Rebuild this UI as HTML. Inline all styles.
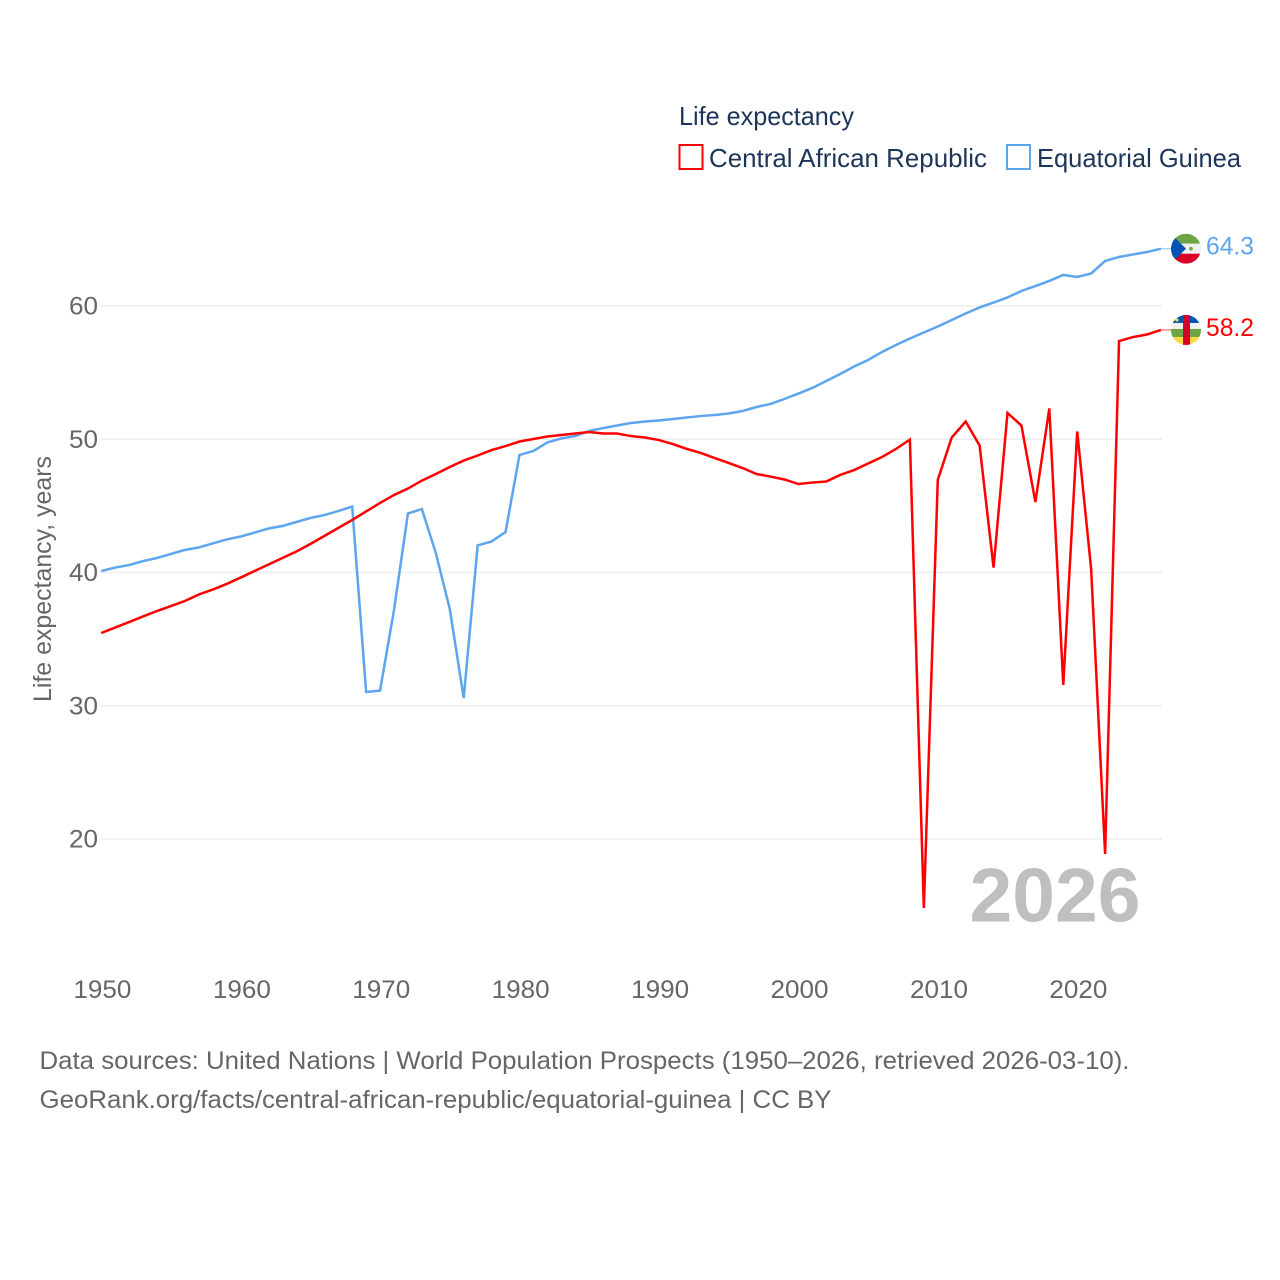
<!DOCTYPE html>
<html lang="en">
<head>
<meta charset="utf-8">
<title>Life expectancy: Central African Republic and Equatorial Guinea</title>
<style>
  html, body { margin: 0; padding: 0; background: #fff; }
  svg { display: block; font-family: "Liberation Sans", sans-serif; }
</style>
</head>
<body>
<svg id="chart" xmlns="http://www.w3.org/2000/svg" width="1280" height="1280" viewBox="0 0 1280 1280">
  <defs>
    <clipPath id="flag-clip"><circle cx="0" cy="0" r="15"/></clipPath>
  </defs>
  <rect x="0" y="0" width="1280" height="1280" fill="#ffffff"/>

  <g id="grid"></g>
  <g id="y-ticks"></g>
  <g id="x-ticks"></g>

  <text transform="translate(51,579) rotate(-90)" text-anchor="middle" font-size="25" fill="#666666" textLength="246" lengthAdjust="spacingAndGlyphs">Life expectancy, years</text>

  <text x="679" y="125" font-size="26" fill="#1d3557" textLength="175" lengthAdjust="spacingAndGlyphs">Life expectancy</text>
  <rect x="679.5" y="145" width="23" height="24" fill="#ffffff" stroke="#ff0000" stroke-width="2"/>
  <text x="709" y="167" font-size="26" fill="#1d3557" textLength="278" lengthAdjust="spacingAndGlyphs">Central African Republic</text>
  <rect x="1007" y="145" width="23" height="24" fill="#ffffff" stroke="#5da5ee" stroke-width="2"/>
  <text x="1037" y="167" font-size="26" fill="#1d3557" textLength="204" lengthAdjust="spacingAndGlyphs">Equatorial Guinea</text>

  <text x="969.5" y="921.5" font-size="76" font-weight="700" fill="#bfbfbf" textLength="171" lengthAdjust="spacingAndGlyphs">2026</text>

  <g id="series"></g>

  <g id="flag-gq">
    <g clip-path="url(#flag-clip)">
      <rect x="-15" y="-15" width="30" height="10" fill="#6da544"/>
      <rect x="-15" y="-5" width="30" height="10" fill="#f0f0f0"/>
      <rect x="-15" y="5" width="30" height="10" fill="#d80027"/>
      <polygon points="-15,-15 0,0 -15,15" fill="#0052b4"/>
      <circle cx="5" cy="0" r="1.8" fill="#6da544"/>
    </g>
  </g>
  <g id="flag-cf">
    <g clip-path="url(#flag-clip)">
      <rect x="-15" y="-15" width="30" height="8" fill="#0052b4"/>
      <rect x="-15" y="-7" width="30" height="6" fill="#f0f0f0"/>
      <rect x="-15" y="-1" width="30" height="8" fill="#6da544"/>
      <rect x="-15" y="7" width="30" height="8" fill="#ffda44"/>
      <rect x="-3" y="-15" width="7" height="30" fill="#d80027"/>
      <circle cx="-9" cy="-10" r="1.6" fill="#ffda44"/>
    </g>
  </g>

  <text id="end-label-gq" x="1206" y="254" font-size="25" fill="#5da5ee" textLength="48" lengthAdjust="spacingAndGlyphs"></text>
  <text id="end-label-cf" x="1206" y="336" font-size="25" fill="#ff0000" textLength="48" lengthAdjust="spacingAndGlyphs"></text>

  <text x="39.5" y="1069" font-size="25" fill="#666666" textLength="1090" lengthAdjust="spacingAndGlyphs">Data sources: United Nations | World Population Prospects (1950–2026, retrieved 2026-03-10).</text>
  <text x="39.5" y="1108" font-size="25" fill="#666666" textLength="792" lengthAdjust="spacingAndGlyphs">GeoRank.org/facts/central-african-republic/equatorial-guinea | CC BY</text>
</svg>

<script>
const firstYear = 1950;
const xTickLabels = [1950, 1960, 1970, 1980, 1990, 2000, 2010, 2020];
const yTickLabels = [20, 30, 40, 50, 60];

const centralAfricanRepublic = [
  35.46, 35.87, 36.28, 36.70, 37.11, 37.48, 37.86, 38.35, 38.72, 39.14,
  39.62, 40.11, 40.60, 41.09, 41.58, 42.14, 42.74, 43.34, 43.94, 44.58,
  45.22, 45.82, 46.30, 46.90, 47.39, 47.92, 48.40, 48.78, 49.19, 49.49,
  49.83, 50.02, 50.21, 50.32, 50.43, 50.54, 50.43, 50.43, 50.24, 50.13,
  49.94, 49.64, 49.27, 48.97, 48.59, 48.22, 47.84, 47.39, 47.20, 46.98,
  46.64, 46.75, 46.83, 47.32, 47.69, 48.18, 48.67, 49.27, 49.98, 14.82,
  46.94, 50.13, 51.33, 49.53, 40.37, 51.97, 51.03, 45.29, 52.31, 31.56,
  50.58, 40.26, 18.87, 57.37, 57.67, 57.86, 58.2
];

const equatorialGuinea = [
  40.11, 40.37, 40.56, 40.86, 41.09, 41.39, 41.69, 41.88, 42.18, 42.48,
  42.70, 43.00, 43.30, 43.49, 43.79, 44.09, 44.31, 44.61, 44.95, 31.03,
  31.14, 37.18, 44.43, 44.76, 41.46, 37.26, 30.58, 42.03, 42.33, 43.04,
  48.82, 49.12, 49.76, 50.06, 50.24, 50.62, 50.84, 51.03, 51.22, 51.33,
  51.41, 51.52, 51.63, 51.74, 51.82, 51.93, 52.12, 52.42, 52.65, 53.02,
  53.43, 53.85, 54.37, 54.90, 55.46, 55.95, 56.55, 57.07, 57.56, 58.01,
  58.46, 58.95, 59.44, 59.89, 60.26, 60.64, 61.13, 61.50, 61.88, 62.33,
  62.18, 62.44, 63.38, 63.68, 63.87, 64.05, 64.3
];

const SVG_NS = 'http://www.w3.org/2000/svg';

function xScale(year) {
  return 101.2 + (year - 1950) * 13.943;
}

function yScale(value) {
  return 306 + (60 - value) * 13.325;
}

const gridLayer = document.getElementById('grid');
const yTickLayer = document.getElementById('y-ticks');
const xTickLayer = document.getElementById('x-ticks');
const seriesLayer = document.getElementById('series');

yTickLabels.forEach(function (tick) {
  const line = document.createElementNS(SVG_NS, 'line');
  
  
  line.setAttribute('x1', 101);
  line.setAttribute('x2', 1162);
  line.setAttribute('y1', yScale(tick));
  line.setAttribute('y2', yScale(tick));
  line.setAttribute('stroke', '#eeeeee');
  line.setAttribute('stroke-width', '1.5');
  gridLayer.appendChild(line);

  const label = document.createElementNS(SVG_NS, 'text');
  
  
  label.setAttribute('x', 98);
  label.setAttribute('y', yScale(tick) + 8.5);
  label.setAttribute('text-anchor', 'end');
  label.setAttribute('font-size', '25');
  label.setAttribute('fill', '#666666');
  label.setAttribute('textLength', '29');
  label.setAttribute('lengthAdjust', 'spacingAndGlyphs');
  label.textContent = tick;
  yTickLayer.appendChild(label);
});

xTickLabels.forEach(function (tick) {
  const label = document.createElementNS(SVG_NS, 'text');
  
  
  label.setAttribute('x', xScale(tick) + 1.2);
  label.setAttribute('y', 998);
  label.setAttribute('text-anchor', 'middle');
  label.setAttribute('font-size', '25');
  label.setAttribute('fill', '#666666');
  label.setAttribute('textLength', '58');
  label.setAttribute('lengthAdjust', 'spacingAndGlyphs');
  label.textContent = tick;
  xTickLayer.appendChild(label);
});

function pointsFor(values) {
  return values.map(function (value, index) {
    return xScale(firstYear + index).toFixed(2) + ',' + yScale(value).toFixed(2);
  }).join(' ');
}

function lastPoint(values) {
  return { x: xScale(firstYear + values.length - 1), y: yScale(values[values.length - 1]) };
}

function drawConnector(values, color, name) {
  const end = lastPoint(values);
  const connector = document.createElementNS(SVG_NS, 'line');
  
  
  connector.setAttribute('x1', end.x);
  connector.setAttribute('x2', 1171);
  connector.setAttribute('y1', end.y);
  connector.setAttribute('y2', end.y);
  connector.setAttribute('stroke', color);
  connector.setAttribute('stroke-width', '1.2');
  connector.setAttribute('stroke-opacity', '0.6');
  seriesLayer.appendChild(connector);
}

const lineGq = document.createElementNS(SVG_NS, 'polyline');


lineGq.setAttribute('points', pointsFor(equatorialGuinea));
lineGq.setAttribute('fill', 'none');
lineGq.setAttribute('stroke', '#5da5ee');
lineGq.setAttribute('stroke-width', '2.5');
lineGq.setAttribute('stroke-linejoin', 'miter');
seriesLayer.appendChild(lineGq);

const lineCf = document.createElementNS(SVG_NS, 'polyline');


lineCf.setAttribute('points', pointsFor(centralAfricanRepublic));
lineCf.setAttribute('fill', 'none');
lineCf.setAttribute('stroke', '#ff0000');
lineCf.setAttribute('stroke-width', '2.5');
lineCf.setAttribute('stroke-linejoin', 'miter');
seriesLayer.appendChild(lineCf);

drawConnector(equatorialGuinea, '#5da5ee', 'connector-equatorial-guinea');
drawConnector(centralAfricanRepublic, '#ff0000', 'connector-central-african-republic');

const endGq = lastPoint(equatorialGuinea);
const endCf = lastPoint(centralAfricanRepublic);
document.getElementById('flag-gq').setAttribute('transform', 'translate(1186,' + endGq.y.toFixed(2) + ')');
document.getElementById('flag-cf').setAttribute('transform', 'translate(1186,' + endCf.y.toFixed(2) + ')');

const endLabelGq = document.getElementById('end-label-gq');
endLabelGq.setAttribute('y', (endGq.y + 6).toFixed(2));
endLabelGq.textContent = equatorialGuinea[equatorialGuinea.length - 1].toFixed(1);

const endLabelCf = document.getElementById('end-label-cf');
endLabelCf.setAttribute('y', (endCf.y + 6).toFixed(2));
endLabelCf.textContent = centralAfricanRepublic[centralAfricanRepublic.length - 1].toFixed(1);
</script>
</body>
</html>
